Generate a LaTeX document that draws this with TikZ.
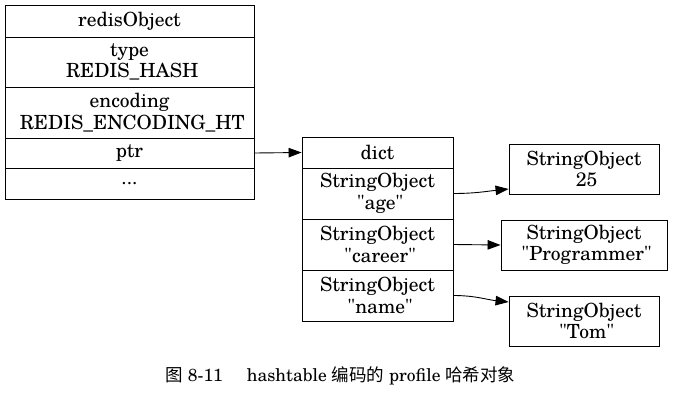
\documentclass[tikz,border=0pt]{standalone}
\usepackage{fontspec}
\setmainfont{texgyreschola-regular.otf}[Ligatures=TeXOff]
\newfontfamily\cjk[Scale=1.0]{Noto Sans CJK SC}
\usetikzlibrary{arrows.meta}
\begin{document}
\begin{tikzpicture}[x=1pt,y=-1pt,
  cell/.style={draw=black, line width=0.9pt, rectangle, inner sep=0pt, align=center,
    font=\fontsize{19.5}{21.5}\selectfont},
  link/.style={-{Triangle[length=13pt,width=9.5pt]}, line width=0.9pt}]
\useasboundingbox (0,0) rectangle (673,405);
% redisObject record
\node[cell, minimum width=249pt, minimum height=32pt] (r0) at (129.5,21) {redisObject};
\node[cell, minimum width=249pt, minimum height=50pt] (r1) at (129.5,62) {type\\\ REDIS\_HASH};
\node[cell, minimum width=249pt, minimum height=51pt] (r2) at (129.5,112.5) {encoding\\\ REDIS\_ENCODING\_HT};
\node[cell, minimum width=249pt, minimum height=30pt] (r3) at (129.5,153) {ptr};
\node[cell, minimum width=249pt, minimum height=31pt] (r4) at (129.5,183.5) {...};
% dict record
\node[cell, minimum width=151pt, minimum height=31pt] (d0) at (377.5,152.5) {dict};
\node[cell, minimum width=151pt, minimum height=51pt] (d1) at (377.5,193.5) {StringObject\\\ "age"};
\node[cell, minimum width=151pt, minimum height=51pt] (d2) at (377.5,244.5) {StringObject\\\ "career"};
\node[cell, minimum width=151pt, minimum height=51pt] (d3) at (377.5,295.5) {StringObject\\\ "name"};
% string objects
\node[cell, minimum width=150pt, minimum height=50pt] (s1) at (584,169) {StringObject\\\ 25};
\node[cell, minimum width=166pt, minimum height=50pt] (s2) at (584,245) {StringObject\\\ "Programmer"};
\node[cell, minimum width=150pt, minimum height=50pt] (s3) at (584,321) {StringObject\\\ "Tom"};
% connectors
\draw[link] (r3.east) -- (d0.west);
\draw[link] (d1.east) to[out=0,in=186] ([yshift=-20pt]s1.west);
\draw[link] (d2.east) -- (s2.west);
\draw[link] (d3.east) to[out=0,in=174] ([yshift=19pt]s3.west);
% caption
\node[anchor=base, inner sep=0pt, font=\fontsize{17.5}{20}\selectfont] (cap) at (340.5,381)
  {{\cjk 图} 8-11\hspace{24pt}hashtable {\cjk 编码的} profile {\cjk 哈希对象}};
\end{tikzpicture}
\end{document}
